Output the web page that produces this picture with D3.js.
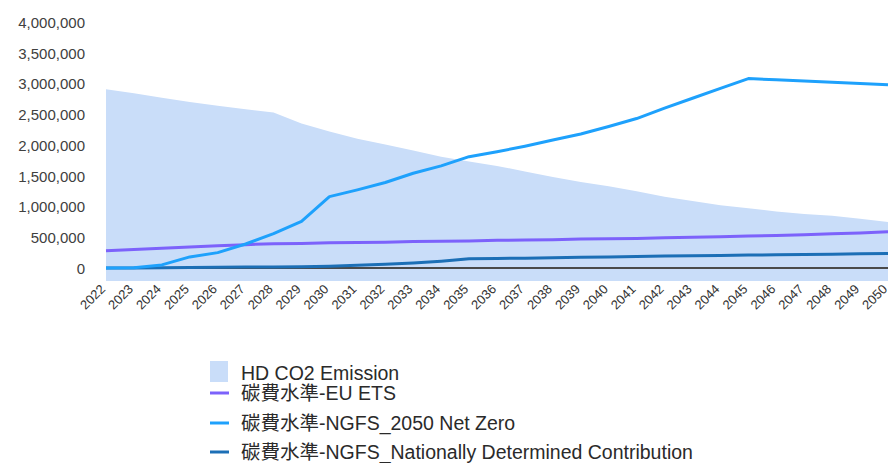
<!DOCTYPE html>
<html><head><meta charset="utf-8">
<script src="https://cdn.jsdelivr.net/npm/d3@7"></script>
<style>
body{margin:0;background:#fff;}
text{font-family:"Liberation Sans","Noto Sans CJK TC",sans-serif;}
</style></head>
<body><svg id="c" width="892" height="463"></svg>
<script>
const years = d3.range(2022, 2051).map(String);
const yTicks = [0,500000,1000000,1500000,2000000,2500000,3000000,3500000,4000000];
const emission = [2906000,2840000,2770000,2700000,2640000,2580000,2530000,2350000,2220000,2100000,2010000,1910000,1810000,1730000,1660000,1570000,1480000,1400000,1330000,1250000,1160000,1090000,1020000,970000,920000,880000,850000,800000,750000];
const euEts = [280000,300000,320000,340000,360000,380000,395000,400000,410000,415000,420000,430000,435000,440000,450000,455000,460000,470000,475000,480000,490000,500000,510000,520000,530000,540000,555000,570000,590000];
const netZero = [0,5000,50000,180000,250000,390000,560000,760000,1160000,1270000,1390000,1540000,1660000,1810000,1890000,1980000,2080000,2180000,2300000,2430000,2600000,2760000,2920000,3080000,3060000,3040000,3020000,3000000,2980000];
const ndc = [0,0,5000,10000,12000,15000,18000,22000,30000,45000,60000,80000,110000,150000,155000,160000,168000,175000,180000,188000,195000,200000,205000,210000,215000,220000,225000,230000,235000];
const legendLabels = ["HD CO2 Emission","碳費水準-EU ETS","碳費水準-NGFS_2050 Net Zero","碳費水準-NGFS_Nationally Determined Contribution"];
const colors = {area:"#c9ddf9", eu:"#7c62fb", nz:"#1ea1fc", ndc:"#1c6fb6", axis:"#4a4a4a"};

const svg = d3.select("#c");
const mLeft = 106, mRight = 888, mTop = 22, zeroY = 268, plotBottom = 281;
const x = d3.scalePoint().domain(years).range([mLeft, mRight]);
const y = d3.scaleLinear().domain([0, 4000000]).range([zeroY, mTop]);

// area
svg.append("path")
  .datum(emission)
  .attr("fill", colors.area)
  .attr("d", d3.area().x((d,i)=>x(years[i])).y0(plotBottom).y1(d=>y(d)));

// y axis labels
const yAxis = svg.append("g").attr("transform", `translate(${mLeft-21},0)`)
  .call(d3.axisLeft(y).tickValues(yTicks).tickSize(0).tickPadding(0).tickFormat(d3.format(",")));
yAxis.select(".domain").remove();
yAxis.selectAll("text").attr("font-size", 15).attr("fill", "#404040").attr("dy","0.35em");

// zero line
svg.append("line").attr("x1", mLeft).attr("x2", mRight).attr("y1", y(0)).attr("y2", y(0))
  .attr("stroke", colors.axis).attr("stroke-width", 2);

// lines
const line = d3.line().x((d,i)=>x(years[i])).y(d=>y(d));
[[ndc, colors.ndc],[euEts, colors.eu],[netZero, colors.nz]].forEach(([s,c])=>{
  svg.append("path").datum(s).attr("fill","none").attr("stroke",c).attr("stroke-width",3)
    .attr("stroke-linejoin","round").attr("d", line);
});

// x axis labels
const xAxis = svg.append("g").attr("transform", `translate(0,${plotBottom+2})`)
  .call(d3.axisBottom(x).tickSize(0).tickPadding(0));
xAxis.select(".domain").remove();
xAxis.selectAll("text").attr("font-size", 13).attr("fill", "#333")
  .attr("text-anchor","end").attr("dy","0.35em").attr("dx","-0.4em")
  .attr("transform","rotate(-45)");

// legend
const lg = svg.append("g");
const rows = [373, 393, 423, 452];
lg.append("rect").attr("x",210).attr("y",361).attr("width",18).attr("height",21).attr("fill",colors.area);
[[colors.eu,1],[colors.nz,2],[colors.ndc,3]].forEach(([c,i])=>{
  lg.append("line").attr("x1",210).attr("x2",229).attr("y1",rows[i]).attr("y2",rows[i])
    .attr("stroke",c).attr("stroke-width",3);
});
legendLabels.forEach((t,i)=>{
  lg.append("text").attr("x",241).attr("y",rows[i]).attr("dy","0.35em")
    .attr("font-size",19.5).attr("fill","#2a2a2a").text(t);
});
</script></body></html>
